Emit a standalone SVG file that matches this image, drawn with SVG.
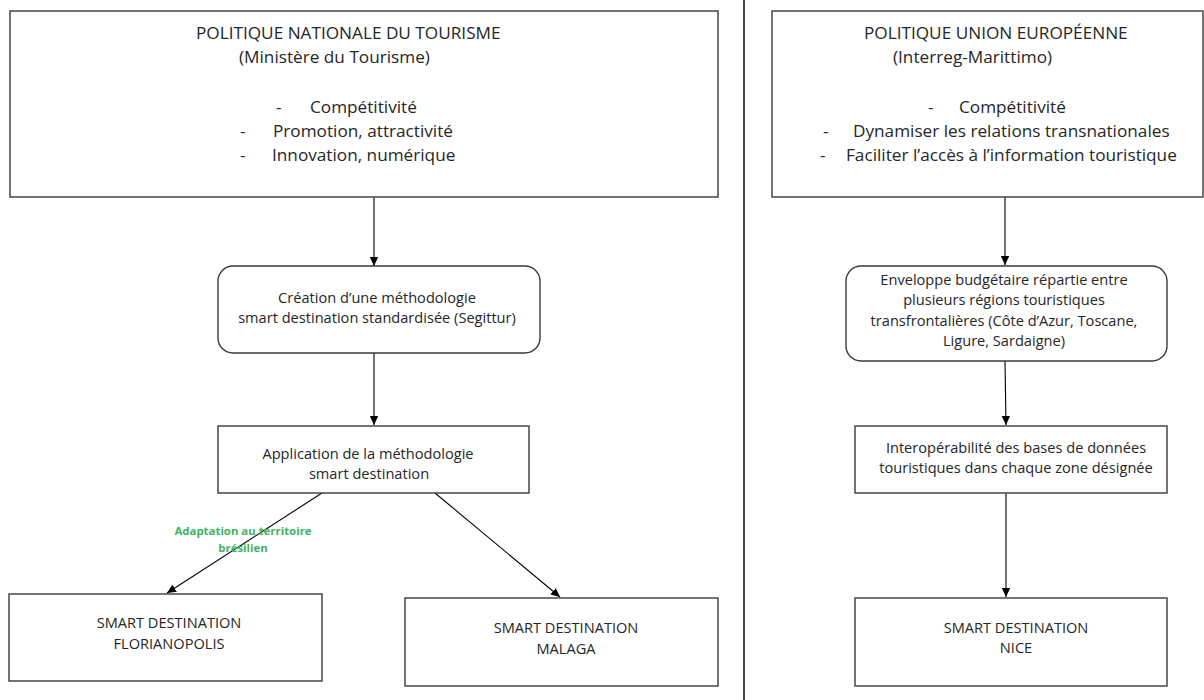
<svg xmlns="http://www.w3.org/2000/svg" width="1204" height="700" viewBox="0 0 1204 700">
<defs>
<marker id="ah" markerWidth="10" markerHeight="10" refX="9" refY="5" orient="auto" markerUnits="userSpaceOnUse">
<path d="M0,0.8 L9,5 L0,9.2 Z" fill="#000"/>
</marker>
<style>
.box{fill:#fff;stroke:#3a3a3a;stroke-width:1.4}
.t{font-family:"Open Sans","Liberation Sans",sans-serif;fill:#262626}
.big{font-size:17.2px}
.mid{font-size:14.6px}
.c{text-anchor:middle}
.con{stroke:#000;stroke-width:1.1;fill:none}
.lab{font-family:"Open Sans","Liberation Sans",sans-serif;font-size:11.4px;font-weight:bold;fill:#3fb262;text-anchor:middle}
</style>
</defs>
<rect width="1204" height="700" fill="#fff"/>
<line x1="744" y1="0" x2="744" y2="700" stroke="#000" stroke-width="1.4"/>

<g id="conns">
<line class="con" x1="374" y1="197" x2="374" y2="266" marker-end="url(#ah)"/>
<line class="con" x1="374" y1="353" x2="374" y2="425" marker-end="url(#ah)"/>
<line class="con" x1="322" y1="493" x2="167" y2="593" marker-end="url(#ah)"/>
<line class="con" x1="435" y1="493" x2="560" y2="597" marker-end="url(#ah)"/>
<line class="con" x1="1005" y1="197" x2="1005" y2="265" marker-end="url(#ah)"/>
<line class="con" x1="1005" y1="361" x2="1006" y2="425" marker-end="url(#ah)"/>
<line class="con" x1="1006" y1="493" x2="1006" y2="597" marker-end="url(#ah)"/>
<text class="lab" x="243" y="535">Adaptation au territoire</text>
<text class="lab" x="243" y="552">brésilien</text>
</g>

<g id="nat">
<rect class="box" x="10" y="11" width="708" height="186"/>
<text class="t big" x="196" y="39">POLITIQUE NATIONALE DU TOURISME</text>
<text class="t big" x="239" y="63">(Ministère du Tourisme)</text>
<text class="t big" x="276" y="113">-</text>
<text class="t big" x="310" y="113">Compétitivité</text>
<text class="t big" x="240" y="137">-</text>
<text class="t big" x="273" y="137">Promotion, attractivité</text>
<text class="t big" x="240" y="161">-</text>
<text class="t big" x="272" y="161">Innovation, numérique</text>
</g>

<g id="ue">
<rect class="box" x="772" y="11" width="431" height="186"/>
<text class="t big" x="864" y="39">POLITIQUE UNION EUROPÉENNE</text>
<text class="t big" x="893" y="63">(Interreg-Marittimo)</text>
<text class="t big" x="928" y="113">-</text>
<text class="t big" x="959" y="113">Compétitivité</text>
<text class="t big" x="823" y="137">-</text>
<text class="t big" x="853" y="137">Dynamiser les relations transnationales</text>
<text class="t big" x="820" y="161">-</text>
<text class="t big" x="846" y="161">Faciliter l’accès à l’information touristique</text>
</g>

<g id="creation">
<rect class="box" x="218" y="266" width="322" height="87" rx="15"/>
<text class="t mid c" x="377" y="303">Création d’une méthodologie</text>
<text class="t mid c" x="377" y="323">smart destination standardisée (Segittur)</text>
</g>

<g id="application">
<rect class="box" x="218" y="426" width="311" height="67"/>
<text class="t mid c" x="368" y="459">Application de la méthodologie</text>
<text class="t mid c" x="369" y="479">smart destination</text>
</g>

<g id="florianopolis">
<rect class="box" x="9" y="594" width="313" height="87"/>
<text class="t mid c" x="169" y="628">SMART DESTINATION</text>
<text class="t mid c" x="169" y="649">FLORIANOPOLIS</text>
</g>

<g id="malaga">
<rect class="box" x="405" y="598" width="313" height="88"/>
<text class="t mid c" x="566" y="633">SMART DESTINATION</text>
<text class="t mid c" x="566" y="654">MALAGA</text>
</g>

<g id="enveloppe">
<rect class="box" x="846" y="266" width="321" height="95" rx="15"/>
<text class="t mid c" x="1004" y="285">Enveloppe budgétaire répartie entre</text>
<text class="t mid c" x="1004" y="305">plusieurs régions touristiques</text>
<text class="t mid c" x="1004" y="326">transfrontalières (Côte d’Azur, Toscane,</text>
<text class="t mid c" x="1004" y="346">Ligure, Sardaigne)</text>
</g>

<g id="interop">
<rect class="box" x="855" y="426" width="312" height="67"/>
<text class="t mid c" x="1016" y="453">Interopérabilité des bases de données</text>
<text class="t mid c" x="1016" y="473">touristiques dans chaque zone désignée</text>
</g>

<g id="nice">
<rect class="box" x="855" y="598" width="312" height="88"/>
<text class="t mid c" x="1016" y="633">SMART DESTINATION</text>
<text class="t mid c" x="1016" y="653">NICE</text>
</g>
</svg>
